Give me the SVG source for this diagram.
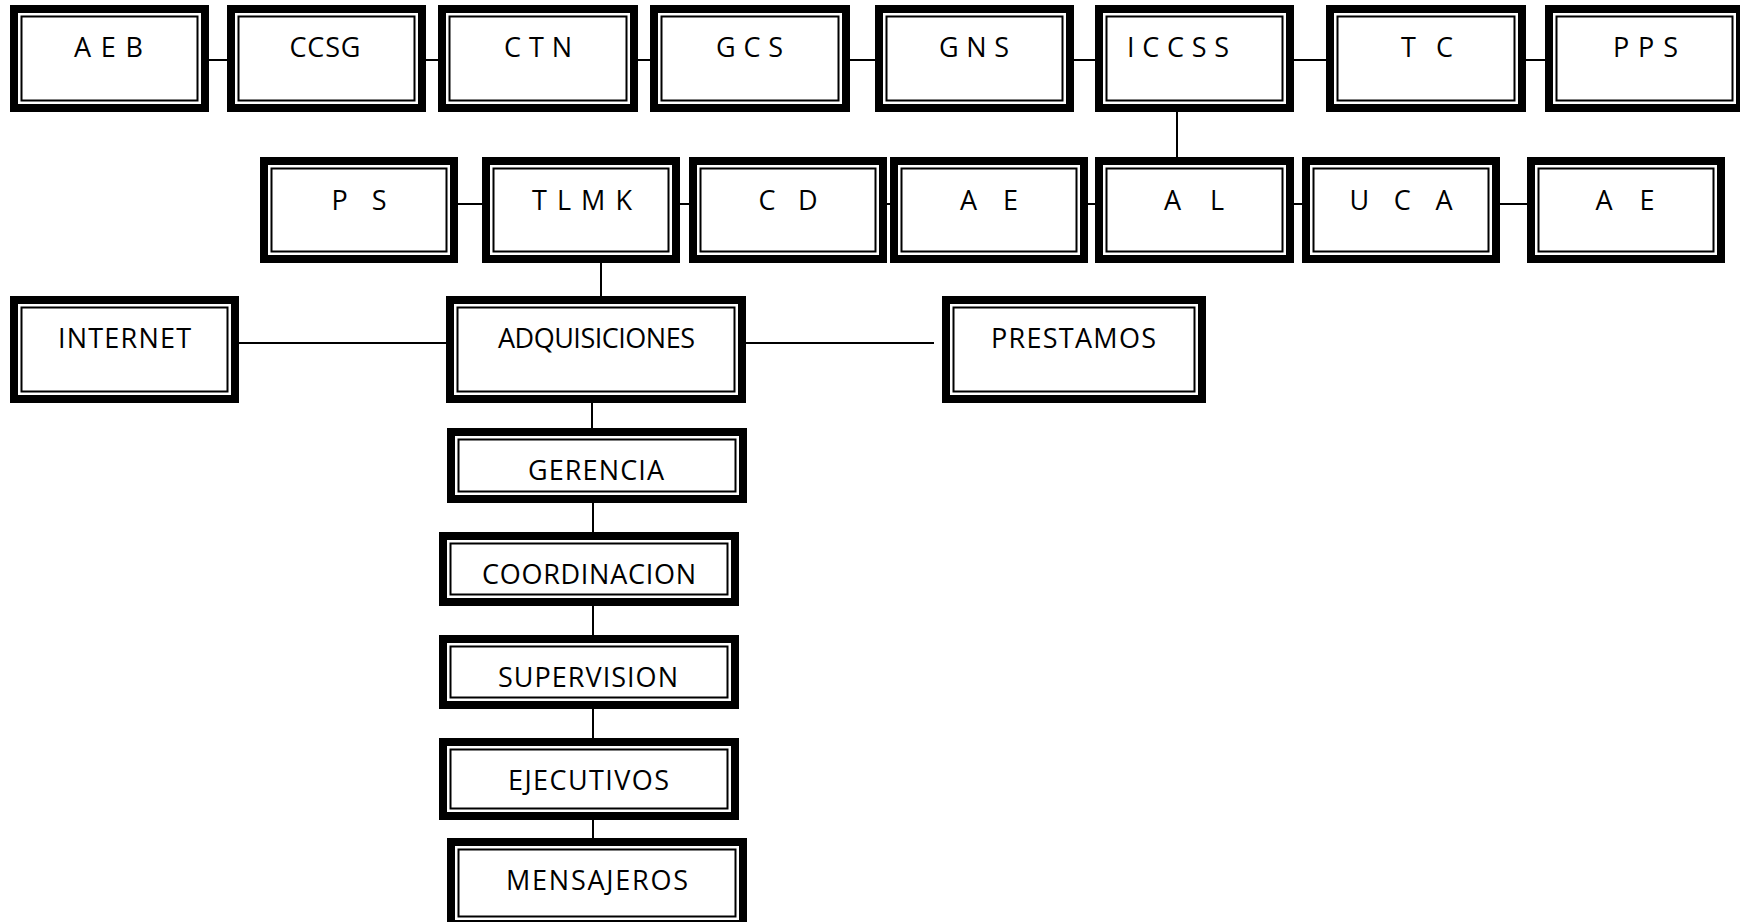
<svg xmlns="http://www.w3.org/2000/svg" width="1740" height="922" viewBox="0 0 1740 922">
<style>
.thick{fill:#fff;stroke:#000;stroke-width:8}
.thin{fill:none;stroke:#000;stroke-width:2}
.lbl{font-family:"Open Sans","Noto Sans","Liberation Sans",sans-serif;font-size:27px;fill:#000;text-anchor:middle}
.conn line{stroke:#000;stroke-width:2}
</style>
<rect width="1740" height="922" fill="#fff"/>
<g class="conn">
<line x1="209" y1="60" x2="227" y2="60"/>
<line x1="426" y1="60" x2="438" y2="60"/>
<line x1="638" y1="60" x2="650" y2="60"/>
<line x1="850" y1="60" x2="875" y2="60"/>
<line x1="1074" y1="60" x2="1095" y2="60"/>
<line x1="1294" y1="60" x2="1326" y2="60"/>
<line x1="1526" y1="60" x2="1545" y2="60"/>
<line x1="1177" y1="112" x2="1177" y2="157"/>
<line x1="458" y1="204" x2="482" y2="204"/>
<line x1="680" y1="204" x2="689" y2="204"/>
<line x1="887" y1="204" x2="890" y2="204"/>
<line x1="1088" y1="204" x2="1095" y2="204"/>
<line x1="1294" y1="204" x2="1302" y2="204"/>
<line x1="1500" y1="204" x2="1527" y2="204"/>
<line x1="601" y1="263" x2="601" y2="296"/>
<line x1="239" y1="343" x2="446" y2="343"/>
<line x1="746" y1="343" x2="934" y2="343"/>
<line x1="592" y1="403" x2="592" y2="428"/>
<line x1="593" y1="503" x2="593" y2="532"/>
<line x1="593" y1="606" x2="593" y2="635"/>
<line x1="593" y1="709" x2="593" y2="738"/>
<line x1="593" y1="820" x2="593" y2="838"/>
</g>
<g id="aeb"><rect class="thick" x="14" y="9" width="191" height="99"/><rect class="thin" x="21.5" y="16.5" width="176" height="84"/><text class="lbl" x="108.5" y="57" textLength="69" lengthAdjust="spacing">A E B</text></g>
<g id="ccsg"><rect class="thick" x="231" y="9" width="191" height="99"/><rect class="thin" x="238.5" y="16.5" width="176" height="84"/><text class="lbl" x="325" y="57" textLength="71" lengthAdjust="spacing">CCSG</text></g>
<g id="ctn"><rect class="thick" x="442" y="9" width="192" height="99"/><rect class="thin" x="449.5" y="16.5" width="177" height="84"/><text class="lbl" x="538" y="57" textLength="68" lengthAdjust="spacing">C T N</text></g>
<g id="gcs"><rect class="thick" x="654" y="9" width="192" height="99"/><rect class="thin" x="661.5" y="16.5" width="177" height="84"/><text class="lbl" x="749.5" y="57" textLength="67" lengthAdjust="spacing">G C S</text></g>
<g id="gns"><rect class="thick" x="879" y="9" width="191" height="99"/><rect class="thin" x="886.5" y="16.5" width="176" height="84"/><text class="lbl" x="974" y="57" textLength="70" lengthAdjust="spacing">G N S</text></g>
<g id="iccss"><rect class="thick" x="1099" y="9" width="191" height="99"/><rect class="thin" x="1106.5" y="16.5" width="176" height="84"/><text class="lbl" x="1178" y="57" textLength="102" lengthAdjust="spacing">I C C S S</text></g>
<g id="tc"><rect class="thick" x="1330" y="9" width="192" height="99"/><rect class="thin" x="1337.5" y="16.5" width="177" height="84"/><text class="lbl" x="1427" y="57" textLength="52" lengthAdjust="spacing">T C</text></g>
<g id="pps"><rect class="thick" x="1549" y="9" width="191" height="99"/><rect class="thin" x="1556.5" y="16.5" width="176" height="84"/><text class="lbl" x="1645.5" y="57" textLength="65" lengthAdjust="spacing">P P S</text></g>
<g id="ps"><rect class="thick" x="264" y="161" width="190" height="98"/><rect class="thin" x="271.5" y="168.5" width="175" height="83"/><text class="lbl" x="359" y="210" textLength="55" lengthAdjust="spacing">P S</text></g>
<g id="tlmk"><rect class="thick" x="486" y="161" width="190" height="98"/><rect class="thin" x="493.5" y="168.5" width="175" height="83"/><text class="lbl" x="582" y="210" textLength="100" lengthAdjust="spacing">T L M K</text></g>
<g id="cd"><rect class="thick" x="693" y="161" width="190" height="98"/><rect class="thin" x="700.5" y="168.5" width="175" height="83"/><text class="lbl" x="788" y="210" textLength="59" lengthAdjust="spacing">C D</text></g>
<g id="ae1"><rect class="thick" x="894" y="161" width="190" height="98"/><rect class="thin" x="901.5" y="168.5" width="175" height="83"/><text class="lbl" x="989" y="210" textLength="58" lengthAdjust="spacing">A E</text></g>
<g id="al"><rect class="thick" x="1099" y="161" width="191" height="98"/><rect class="thin" x="1106.5" y="168.5" width="176" height="83"/><text class="lbl" x="1194" y="210" textLength="60" lengthAdjust="spacing">A L</text></g>
<g id="uca"><rect class="thick" x="1306" y="161" width="190" height="98"/><rect class="thin" x="1313.5" y="168.5" width="175" height="83"/><text class="lbl" x="1401" y="210" textLength="103" lengthAdjust="spacing">U C A</text></g>
<g id="ae2"><rect class="thick" x="1531" y="161" width="190" height="98"/><rect class="thin" x="1538.5" y="168.5" width="175" height="83"/><text class="lbl" x="1625" y="210" textLength="59" lengthAdjust="spacing">A E</text></g>
<g id="internet"><rect class="thick" x="14" y="300" width="221" height="99"/><rect class="thin" x="21.5" y="307.5" width="206" height="84"/><text class="lbl" x="124.5" y="348" textLength="133" lengthAdjust="spacing">INTERNET</text></g>
<g id="adquisiciones"><rect class="thick" x="450" y="300" width="292" height="99"/><rect class="thin" x="457.5" y="307.5" width="277" height="84"/><text class="lbl" x="596.5" y="348" textLength="197" lengthAdjust="spacing">ADQUISICIONES</text></g>
<g id="prestamos"><rect class="thick" x="946" y="300" width="256" height="99"/><rect class="thin" x="953.5" y="307.5" width="241" height="84"/><text class="lbl" x="1073.5" y="348" textLength="165" lengthAdjust="spacing">PRESTAMOS</text></g>
<g id="gerencia"><rect class="thick" x="451" y="432" width="292" height="67"/><rect class="thin" x="458.5" y="439.5" width="277" height="52"/><text class="lbl" x="596" y="480" textLength="136" lengthAdjust="spacing">GERENCIA</text></g>
<g id="coordinacion"><rect class="thick" x="443" y="536" width="292" height="66"/><rect class="thin" x="450.5" y="543.5" width="277" height="51"/><text class="lbl" x="589" y="584" textLength="214" lengthAdjust="spacing">COORDINACION</text></g>
<g id="supervision"><rect class="thick" x="443" y="639" width="292" height="66"/><rect class="thin" x="450.5" y="646.5" width="277" height="51"/><text class="lbl" x="588" y="687" textLength="180" lengthAdjust="spacing">SUPERVISION</text></g>
<g id="ejecutivos"><rect class="thick" x="443" y="742" width="292" height="74"/><rect class="thin" x="450.5" y="749.5" width="277" height="59"/><text class="lbl" x="588.5" y="790" textLength="161" lengthAdjust="spacing">EJECUTIVOS</text></g>
<g id="mensajeros"><rect class="thick" x="451" y="842" width="292" height="82"/><rect class="thin" x="458.5" y="849.5" width="277" height="67"/><text class="lbl" x="597" y="890" textLength="182" lengthAdjust="spacing">MENSAJEROS</text></g>
</svg>
